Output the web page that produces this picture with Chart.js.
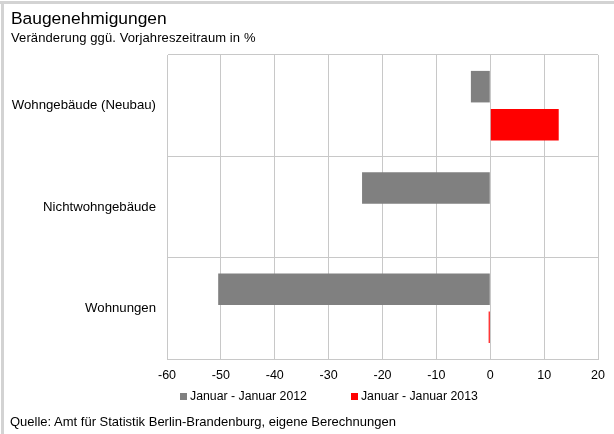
<!DOCTYPE html>
<html>
<head>
<meta charset="utf-8">
<script src="https://cdn.jsdelivr.net/npm/chart.js@4.4.1/dist/chart.umd.min.js"></script>
<style>
  body { margin: 0; background: #fff; font-family: "Liberation Sans", Arial, sans-serif; }
  #wrap { position: relative; width: 614px; height: 434px; overflow: hidden; background: #fff; }
  #wrap:before { content: ""; position: absolute; left: 0; top: 1px; width: 614px; height: 3px; background: #d3d3d3; }
  #wrap:after { content: ""; position: absolute; left: 1px; top: 1px; width: 3px; height: 434px; background: #d3d3d3; }
  canvas { position: absolute; left: 0; top: 0; }
  .titel { position: absolute; left: 11px; top: 8px; font-size: 17.4px; color: #000; white-space: nowrap; }
  .untertitel { position: absolute; left: 11px; top: 30px; font-size: 13px; letter-spacing: 0.1px; color: #000; white-space: nowrap; }
  .quelle { position: absolute; left: 10px; top: 414px; font-size: 13px; color: #000; white-space: nowrap; }
  #legende { position: absolute; left: 180px; top: 389px; font-size: 12.3px; color: #000; display: flex; white-space: nowrap; }
  #legende span.item { display: flex; align-items: center; margin-right: 44px; }
  #legende span.box { display: inline-block; width: 7px; height: 7px; margin-right: 3px; }
</style>
</head>
<body>
<div id="wrap">
  <canvas id="chart" width="614" height="434"></canvas>
  <div class="titel">Baugenehmigungen</div>
  <div class="untertitel">Veränderung ggü. Vorjahreszeitraum in %</div>
  <div id="legende"></div>
  <div class="quelle">Quelle: Amt für Statistik Berlin-Brandenburg, eigene Berechnungen</div>
</div>
<script>
// Kategorien und Werte (Veränderung in %)
const kategorien = ['Wohngebäude (Neubau)', 'Nichtwohngebäude', 'Wohnungen'];
const reihen = ['Januar - Januar 2012', 'Januar - Januar 2013'];
const werte2012 = [-3.6, -23.8, -50.5];
const werte2013 = [12.7, 0, -0.3];
const xMin = -60, xMax = 20, xSchritt = 10;

const gitter = '#c8c8c8';

const ctx = document.getElementById('chart').getContext('2d');
const chart = new Chart(ctx, {
  type: 'bar',
  data: {
    labels: kategorien,
    datasets: [
      { label: reihen[0], data: werte2012, backgroundColor: '#808080' },
      { label: reihen[1], data: werte2013, backgroundColor: '#ff0000' }
    ]
  },
  options: {
    indexAxis: 'y',
    responsive: false,
    animation: false,
    devicePixelRatio: 1,
    categoryPercentage: 0.75,
    barPercentage: 0.83,
    layout: { padding: { top: 55, right: 15, bottom: 45, left: 0 } },
    plugins: {
      legend: { display: false },
      tooltip: { enabled: false }
    },
    scales: {
      x: {
        min: xMin,
        max: xMax,
        ticks: {
          stepSize: xSchritt,
          color: '#000',
          padding: 9,
          font: { family: 'Liberation Sans', size: 12.5 }
        },
        grid: { color: gitter, drawTicks: false },
        border: { color: gitter },
        afterFit: (scale) => { scale.height = 30; }
      },
      y: {
        ticks: {
          color: '#000',
          padding: 11,
          font: { family: 'Liberation Sans', size: 13.2 }
        },
        grid: { color: gitter, drawTicks: false },
        border: { color: gitter },
        afterFit: (scale) => { scale.width = 167; }
      }
    }
  }
});

// Legende aus den Datensätzen bauen
const legende = document.getElementById('legende');
chart.data.datasets.forEach((ds) => {
  const item = document.createElement('span');
  item.className = 'item';
  const box = document.createElement('span');
  box.className = 'box';
  box.style.background = ds.backgroundColor;
  item.appendChild(box);
  item.appendChild(document.createTextNode(ds.label));
  legende.appendChild(item);
});
</script>
</body>
</html>
